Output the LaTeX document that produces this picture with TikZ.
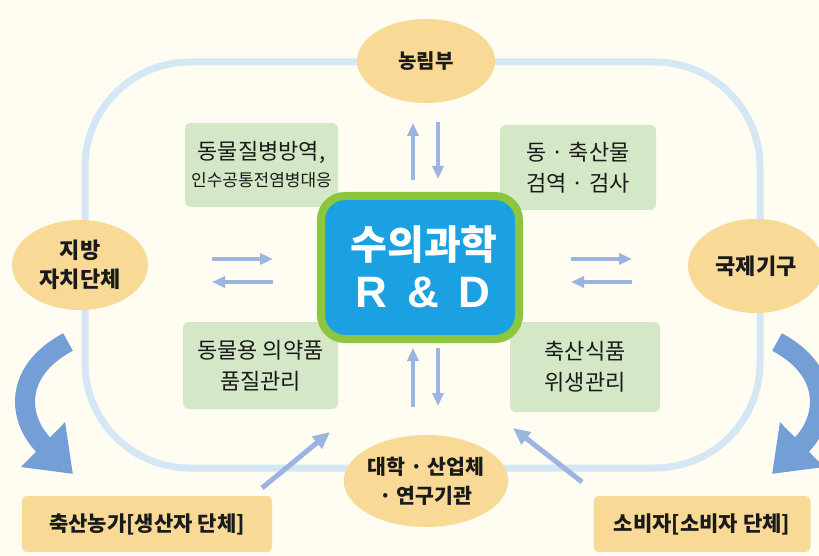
\documentclass[tikz,border=0pt]{standalone}
\usepackage{fontspec}
\newfontfamily\kr{Noto Sans CJK KR}
\newfontfamily\arialf{Liberation Sans}
\usetikzlibrary{shapes.geometric,arrows.meta}
\definecolor{bgc}{HTML}{FFFCF2}
\definecolor{ringc}{HTML}{D5E7F4}
\definecolor{ellc}{HTML}{F8DA96}
\definecolor{grn}{HTML}{D4E7C6}
\definecolor{rdfill}{HTML}{1BA1E2}
\definecolor{rdline}{HTML}{8CC63E}
\definecolor{arr}{HTML}{9CB4E0}
\definecolor{barr}{HTML}{739FD6}
\definecolor{txt}{HTML}{1A1A1A}
\begin{document}
\begin{tikzpicture}[x=1pt,y=-1pt,
  ell/.style={ellipse, fill=ellc, inner sep=0pt, align=center, text=txt,
    font=\kr\bfseries\fontsize{22}{29}\selectfont},
  gbox/.style={rectangle, rounded corners=6pt, fill=grn, inner sep=0pt, align=center, text=txt,
    font=\kr\fontsize{22}{31}\selectfont},
  ybox/.style={rectangle, rounded corners=5pt, fill=ellc, inner sep=0pt, align=center, text=txt,
    font=\kr\bfseries\fontsize{21}{24}\selectfont},
  sarrow/.style={line width=4pt, color=arr, -{Triangle[length=13pt,width=11pt]}},
  darrow/.style={line width=5pt, color=arr, -{Triangle[length=17pt,width=15pt]}},
  bigarrow/.style={line width=20pt, color=barr, -{Triangle[length=42pt,width=60pt]}}
]
\useasboundingbox (0,0) rectangle (819,556);
\fill[bgc] (0,0) rectangle (819,556);

% big ring
\draw[ringc, line width=7pt, rounded corners=105pt] (85,62) rectangle (760,468);

% ellipses
\node[ell, minimum width=138pt, minimum height=84pt, font=\kr\bfseries\fontsize{20}{24}\selectfont] (nong) at (426,61) {농림부};
\node[ell, minimum width=136pt, minimum height=90pt] (jibang) at (80,265) {지방\\자치단체};
\node[ell, minimum width=136pt, minimum height=94pt] (gukje) at (756,266) {국제기구};
\node[ell, minimum width=162pt, minimum height=92pt, font=\kr\bfseries\fontsize{20.5}{29}\selectfont] (daehak) at (426,481) {대학 · 산업체\\· 연구기관};

% green boxes
\node[gbox, minimum width=153pt, minimum height=84pt] (tl) at (261.5,165)
  {동물질병방역,\\[-4pt]{\fontsize{17}{20}\selectfont 인수공통전염병대응}};
\node[gbox, minimum width=156pt, minimum height=85pt] (tr) at (578,167.5) {동 · 축산물\\검역 · 검사};
\node[gbox, minimum width=155pt, minimum height=87pt] (bl) at (260.5,365.5) {동물용 의약품\\품질관리};
\node[gbox, minimum width=150pt, minimum height=90pt] (br) at (585,367) {축산식품\\위생관리};

% centre box
\node[draw=rdline, fill=rdfill, line width=8pt, rounded corners=24pt,
  minimum width=198pt, minimum height=143pt, inner sep=0pt] (rd) at (420,267.5) {};
\node[text=white, font=\kr\bfseries\fontsize{40}{42}\selectfont, inner sep=0pt] (rdA) at (424,244) {수의과학};
\node[text=white, font=\arialf\bfseries\fontsize{44}{46}\selectfont, inner sep=0pt] (rdB) at (423,292) {R\hspace{20pt}\&\hspace{20pt}D};

% small arrows
\coordinate (u1a) at (413,180); \coordinate (u1b) at (413,123);
\coordinate (d1a) at (438,122); \coordinate (d1b) at (438,179);
\coordinate (u2a) at (413,407); \coordinate (u2b) at (413,348);
\coordinate (d2a) at (438,348); \coordinate (d2b) at (438,406);
\coordinate (l1a) at (212,259); \coordinate (l1b) at (273,259);
\coordinate (l2a) at (273,282); \coordinate (l2b) at (212,282);
\coordinate (r1a) at (571,259); \coordinate (r1b) at (632,259);
\coordinate (r2a) at (632,282); \coordinate (r2b) at (571,282);
\draw[sarrow] (u1a) -- (u1b);
\draw[sarrow] (d1a) -- (d1b);
\draw[sarrow] (u2a) -- (u2b);
\draw[sarrow] (d2a) -- (d2b);
\draw[sarrow] (l1a) -- (l1b);
\draw[sarrow] (l2a) -- (l2b);
\draw[sarrow] (r1a) -- (r1b);
\draw[sarrow] (r2a) -- (r2b);

% bottom boxes
\node[ybox, minimum width=250pt, minimum height=56pt] (farm) at (147,524) {축산농가[생산자 단체]};
\node[ybox, minimum width=217pt, minimum height=56pt] (cons) at (702,524) {소비자[소비자 단체]};

% diagonal arrows
\coordinate (dg1) at (330,432); \coordinate (dg2) at (513,428);
\draw[darrow] (262,488) -- (dg1);
\draw[darrow] (582,482) -- (dg2);

% big curved arrows
\coordinate (bl0) at (68,342); \coordinate (bl1) at (73,474);
\coordinate (br0) at (777,342); \coordinate (br1) at (772,474);
\draw[bigarrow] (bl0) .. controls (12,372) and (18,420) .. (bl1);
\draw[bigarrow] (br0) .. controls (833,372) and (827,420) .. (br1);
\end{tikzpicture}
\end{document}
